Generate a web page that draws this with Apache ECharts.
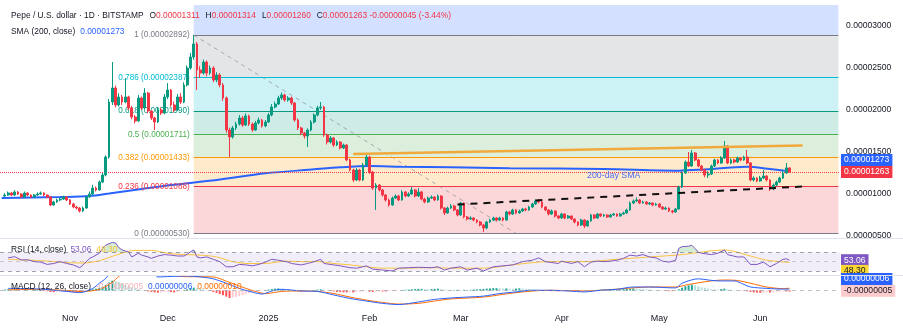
<!DOCTYPE html>
<html><head><meta charset="utf-8">
<script src="https://cdn.jsdelivr.net/npm/echarts@6/dist/echarts.min.js"></script>
<style>html,body{margin:0;padding:0;background:#fff}#c{width:903px;height:332px}</style>
</head><body><div id="c"></div>
<script>
// ---------- DATA (prices in units of 1e-8 USD) ----------
const axisStartDate = '2024-10-11';
const axisDayCount = 258;
const candleFirstDay = 1; // 2024-10-12
const opens = [976,988,1012,988,1024,1000,964,1012,988,964,
988,1000,1012,988,964,869,905,929,940,964,
929,881,845,833,798,833,964,1000,1071,1048,
1143,1226,1440,2095,2262,2060,2155,2095,2155,2024,
1917,1869,2143,2024,2202,1988,1905,1857,2000,1964,
2155,2238,2060,2000,2155,2095,2298,2500,2631,2786,
2476,2440,2571,2440,2500,2357,2417,2298,2143,1762,
1679,1786,1833,1905,1821,1929,1833,1762,1845,1881,
1810,1857,1940,2036,2071,2143,2179,2119,2143,2083,
1881,1786,1726,1690,1762,1857,1940,2024,2036,1702,
1619,1667,1583,1619,1548,1583,1405,1286,1167,1286,
1167,1345,1440,1262,1071,1107,1048,988,929,869,
952,976,929,1024,976,1000,1048,976,1024,940,
905,952,964,929,976,833,774,833,857,810,
750,893,726,702,714,690,667,631,595,667,
690,714,690,714,690,786,762,810,774,798,
821,810,845,881,917,905,845,810,762,798,
738,714,762,714,738,702,667,631,690,619,
679,750,714,762,738,750,726,750,762,738,
762,774,810,893,917,929,893,905,881,893,
869,881,845,821,833,798,786,821,1083,1250,
1381,1333,1488,1405,1333,1286,1226,1238,1333,1405,
1369,1429,1571,1369,1405,1381,1429,1405,1440,1369,
1167,1190,1155,1190,1214,1167,1060,1107,1143,1190,
1250,1311];
const closes = [988,1012,988,1024,1000,964,1012,988,964,988,
1000,1012,988,964,869,905,929,940,964,929,
881,845,833,798,833,964,1000,1071,1048,1143,
1226,1440,2095,2262,2060,2155,2095,2155,2024,1917,
1869,2143,2024,2202,1988,1905,1857,2000,1964,2155,
2238,2060,2000,2155,2095,2298,2500,2631,2786,2476,
2440,2571,2440,2500,2357,2417,2298,2143,1762,1679,
1786,1833,1905,1821,1929,1833,1762,1845,1881,1810,
1857,1940,2036,2071,2143,2179,2119,2143,2083,1881,
1786,1726,1690,1762,1857,1940,2024,2036,1702,1619,
1667,1583,1619,1548,1583,1405,1286,1167,1286,1167,
1345,1440,1262,1071,1107,1048,988,929,869,952,
976,929,1024,976,1000,1048,976,1024,940,905,
952,964,929,976,833,774,833,857,810,750,
893,726,702,714,690,667,631,595,667,690,
714,690,714,690,786,762,810,774,798,821,
810,845,881,917,905,845,810,762,798,738,
714,762,714,738,702,667,631,690,619,679,
750,714,762,738,750,726,750,762,738,762,
774,810,893,917,929,893,905,881,893,869,
881,845,821,833,798,786,821,1083,1250,1381,
1333,1488,1405,1333,1286,1226,1238,1333,1405,1369,
1429,1571,1369,1405,1381,1429,1405,1440,1369,1167,
1190,1155,1190,1214,1167,1060,1107,1143,1190,1250,
1311,1263];
const highs = [1010,1030,1025,1045,1035,1010,1030,1020,995,1000,
1020,1030,1020,995,975,920,945,955,980,975,
940,895,860,845,850,980,1030,1110,1090,1160,
1250,1460,2130,2571,2290,2200,2180,2380,2170,2050,
1940,2180,2160,2260,2215,2000,1920,2030,2030,2190,
2321,2250,2100,2190,2200,2330,2530,2680,2892,2810,
2520,2600,2590,2530,2520,2450,2440,2320,2160,1790,
1810,1860,1940,1930,1960,1945,1850,1870,1910,1895,
1880,1965,2070,2100,2170,2210,2195,2165,2160,2095,
1900,1800,1740,1780,1880,1960,2050,2095,2050,1720,
1690,1680,1640,1630,1600,1595,1420,1300,1310,1300,
1370,1488,1455,1275,1130,1120,1060,1000,945,970,
995,990,1045,1035,1020,1083,1060,1070,1035,955,
970,985,975,995,985,845,850,880,870,820,
905,900,740,735,725,700,680,645,680,705,
730,725,730,725,800,800,825,820,815,835,
835,860,895,935,940,915,855,820,815,805,
750,775,770,750,745,710,675,705,700,690,
765,760,775,770,765,760,765,775,770,775,
790,825,910,935,960,940,920,915,905,900,
895,890,855,850,840,810,835,1100,1270,1400,
1500,1524,1500,1420,1345,1300,1270,1350,1420,1415,
1450,1631,1580,1425,1420,1445,1440,1455,1524,1380,
1210,1200,1215,1286,1225,1175,1125,1160,1205,1280,
1369,1314];
const lows = [965,980,975,980,990,950,955,975,950,955,
980,990,975,950,855,860,895,915,930,915,
870,830,815,780,785,825,955,990,1030,1040,
1130,1210,1420,2060,2030,2040,2060,2080,2000,1890,
1840,1860,2000,2010,1960,1880,1762,1845,1940,1950,
2130,2040,1970,1990,2070,2080,2280,2480,2600,2238,
2380,2420,2400,2420,2330,2330,2270,2110,1730,1440,
1660,1760,1815,1800,1810,1810,1740,1750,1830,1790,
1795,1845,1925,2020,2060,2120,2100,2100,2060,1860,
1760,1700,1660,1560,1745,1840,1925,2000,1680,1590,
1600,1560,1570,1530,1535,1390,1270,1143,1155,1150,
1155,1330,1240,1050,810,1030,970,910,850,860,
940,915,920,960,965,990,960,965,925,890,
895,940,915,920,815,750,765,820,795,735,
740,710,685,690,675,650,615,548,580,655,
680,675,680,675,680,745,750,760,765,785,
795,800,835,870,890,830,795,745,750,720,
700,705,700,705,690,650,615,620,595,610,
670,700,705,725,728,715,718,740,728,730,
755,765,800,880,905,880,885,870,870,855,
860,835,810,812,785,770,778,815,1070,1240,
1320,1325,1390,1320,1270,1200,1190,1225,1320,1355,
1360,1420,1355,1355,1365,1370,1390,1395,1355,1150,
1150,1140,1145,1180,1150,1036,1045,1095,1130,1180,
1240,1260];
const dayChange = -45;          // 1e-8 units, as printed in the header
const dayChangePct = '-3.44%';
// SMA(200) read at sample days (day offset from axisStartDate)
const smaDay = [0,9,18,27,33,43,52,66,81,96,104,113,123,138,156,185,208,215,229,236,240,242];
const smaVal = [952,958,964,976,1006,1060,1107,1167,1246,1294,1318,1333,1325,1318,1306,1298,1278,1290,1325,1298,1280,1273];
// Fibonacci retracement
const fibRatio = [1,0.786,0.618,0.5,0.382,0.236,0];
const fibPrice = [2892,2387,1990,1711,1433,1088,530];
const fibColor = ['#787b86','#00bcd4','#089981','#4caf50','#ff9800','#f23645','#787b86'];
const fibTopColor = '#2962ff';
const fibStartDay = 59;
const fibTrendDay = [59,158];
const fibTrendVal = [2892,530];
const resistanceDay = [108,246];
const resistanceVal = [1476,1577];
const supportDay = [140,246];
const supportVal = [875,1089];
const smaLabelDay = 188, smaLabelVal = 1214;
// RSI(14)
const rsiDay = [2,4,6,8,10,12,14,16,18,20,22,24,25,27,28,30,31,32,34,35,36,37,39,40,42,43,45,46,48,50,52,54,56,57,58,59,60,61,63,65,67,69,71,73,75,77,79,81,83,85,88,89,92,94,96,98,99,102,104,107,109,111,112,114,117,120,122,125,128,132,134,136,138,141,143,146,148,151,154,157,160,163,165,167,171,172,175,177,179,181,183,185,187,189,191,193,195,197,199,201,203,205,207,208,209,211,212,213,214,215,218,220,222,223,226,228,230,232,234,236,238,240,241,242];
const rsiVal = [58,60.6,53.5,54,50,49,44,46,50,46,43,37,43,57,60,68,78.5,85.6,91,90,80,75,70.5,60,68,64,60,57,62,65,64,62,62,66,71,75,60,58,60,55,50,39,39,44,43,41,44,49,55,53,49,46,43,46,50,55,46,43,41,37,36,39,41,34,32,30,36,37,38,37,39,32,36,39,32,36,30,39,41,43,50,53,58,50,46,51,46,50,39,49,51,50,51,53,57,64,62,65,60,58,51,49,53,78.5,82,83,85,78,70,68,65,68,75,65,60,60,44,44,49,39,46,55,56,53.06];
const rsiMaDay = [2,12,20,25,30,36,41,46,51,56,61,66,71,76,81,87,92,97,102,107,112,117,122,133,138,148,158,168,179,189,199,209,222,230,235,242];
const rsiMaVal = [55,52,48,47,52,66,74,74,68,65,64,60,50,46,46,51,50,50,46,43,39,36,36,37,36,36,44,50,50,55,60,65,75,62,53,48.3];
// MACD(12,26) in 1e-8 units
const macdDay = [2,12,20,24,28,30,32,34,40,46,48,52,57,61,65,69,73,77,80,83,86,92,97,102,107,112,117,122,128,133,138,143,148,153,158,163,168,174,179,184,189,194,199,207,209,214,217,220,225,228,230,235,240,242];
const macdVal = [9,6,-4,-9,9,31,52,90,150,100,58,60,62,58,50,31,9,-7,-15,-2,5,-2,-4,-19,-34,-45,-55,-60,-49,-38,-32,-28,-24,-13,-6,1,1,-2,-6,1,5,15,15,11,31,50,45,41,41,26,15,9,6,6];
const signalDay = [2,12,20,25,30,34,36,42,55,65,69,73,77,81,86,92,97,102,107,112,117,122,128,133,138,148,158,168,179,189,199,207,211,218,222,226,230,235,240,242];
const signalVal = [3,5,0,-4,5,35,60,120,60,58,40,19,0,-13,-4,-2,-4,-13,-28,-41,-51,-58,-55,-45,-36,-28,-9,1,-2,6,15,15,26,41,45,43,31,15,8,10];
const histVal = [4,5,3,4,2,1,3,2,1,2,3,2,
-2,-3,-6,-7,-6,-5,-4,-5,-6,-7,-8,-8,-6,-3,
2,5,8,12,16,24,34,42,40,36,
30,24,18,13,9,6,3,
-2,-4,-6,-8,-9,-8,-6,-5,-7,-8,-6,-4,
2,5,9,12,10,7,
4,2,-2,-6,
-10,-15,-20,-26,-32,-30,-28,-24,
-20,-16,-12,-9,-6,-4,-2,
2,4,6,8,9,8,6,5,3,
-2,-4,-5,-4,-3,-1,
2,4,5,3,1,-2,
-4,-6,-7,-8,-8,-7,-8,-6,-5,-4,-3,-5,
-6,-5,-4,-4,-4,-3,-2,-2,-1,
2,3,4,5,6,7,7,6,5,6,7,8,6,4,3,2,
2,3,2,3,2,3,
4,5,6,7,8,9,10,10,9,8,9,8,7,8,9,
8,7,6,5,4,3,2,
-1,-2,-3,-3,-4,-3,-2,-3,-2,-3,-4,-3,-2,-1,1,
2,3,4,4,3,4,5,4,5,
6,7,8,9,8,7,6,5,4,
3,2,1,-1,-2,-3,-3,-2,
5,12,18,22,25,22,18,
14,11,8,6,5,4,6,8,
5,3,2,1,-1,-2,-3,
-6,-8,-9,-10,-9,-8,-9,-8,-6,
-5,-4,-4,-5];
const monthNames = ['Jan','Feb','Mar','Apr','May','Jun','Jul','Aug','Sep','Oct','Nov','Dec'];

// ---------- BUILD ----------
const FONT = "'Liberation Sans',Arial,sans-serif";
const TXT = '#131722';
const s0 = axisStartDate.split('-').map(Number);
const cats = Array.from({length: axisDayCount}, (_, k) =>
  new Date(Date.UTC(s0[0], s0[1]-1, s0[2]+k)).toISOString().slice(0,10));
const N = cats.length;
const fmt = v => (v<0?'-':'') + (Math.abs(v)/1e8).toFixed(8);
function spread(days, vals){ const a = new Array(N).fill(null); days.forEach((d,i)=>{a[d]=vals[i];}); return a; }
const candleData = cats.map((c,k)=>{ const j=k-candleFirstDay; return (j>=0 && j<closes.length) ? [opens[j],closes[j],lows[j],highs[j]] : '-'; });
const histData = cats.map((c,k)=>{ const j=k-candleFirstDay; if(j<0||j>=histVal.length) return '-';
  const v=histVal[j], p=j>0?histVal[j-1]:0;
  const col = v>=0 ? (v>=p?'#26a69a':'#b2dfdb') : (v<=p?'#ff5252':'#ffcdd2');
  return {value:v, itemStyle:{color:col}}; });
const L = closes.length-1;
const lastClose = closes[L];
const lastSma = smaVal[smaVal.length-1];
const lastRsi = rsiVal[rsiVal.length-1];
const lastRsiMa = rsiMaVal[rsiMaVal.length-1];
const lastMacd = macdVal[macdVal.length-1];
const lastHist = histVal[histVal.length-1];
const lastSignal = signalVal[signalVal.length-1];
const endCat = cats[N-1];

const bandBounds = [3250].concat(fibPrice);
const fibAreas = [];
for (let i=0;i<bandBounds.length-1;i++){
  const col = i===0 ? fibTopColor : fibColor[i-1];
  fibAreas.push([{xAxis: cats[fibStartDay], yAxis: bandBounds[i], itemStyle:{color: col, opacity: 0.2}},
                 {xAxis: endCat, yAxis: bandBounds[i+1]}]);
}
const fibLines = fibPrice.map((p,i)=>[
  {xAxis: cats[fibStartDay], yAxis: p, lineStyle:{color: fibColor[i], width:1, type:'solid'},
   label:{show:true, position:'start', distance:4, formatter: fibRatio[i]+' ('+fmt(p)+')', color: fibColor[i], fontSize:8.2, fontFamily:FONT}},
  {xAxis: endCat, yAxis: p}]);

const CLEAR = 'rgba(0,0,0,0)';
function tag(val, txt, bg, fg, dy){
  return {yAxis: val, lineStyle:{color:CLEAR, width:0}, label:{show:true, position:'end', distance:1, formatter: txt,
    backgroundColor:bg, color:fg, padding:[2,3,1,3], fontSize:8.6, fontFamily:FONT, offset:[0,dy]}};
}
const rt = (size, color, pl) => ({fontSize:size, color:color, fontFamily:FONT, fontWeight:'normal', padding:[0,0,0,pl||0]});

const chart = echarts.init(document.getElementById('c'), null, {renderer:'canvas'});
const baseX = gi => ({type:'category', gridIndex:gi, data:cats, boundaryGap:true,
  axisLine:{show:false}, axisTick:{show:false}, splitLine:{show:false},
  axisLabel: gi===2 ? {show:true, interval:(idx,val)=>val.slice(8)==='01',
     formatter: val=>{const m=+val.slice(5,7); return m===1 ? val.slice(0,4) : monthNames[m-1];},
     fontSize:9, color:TXT, margin:9, fontFamily:FONT} : {show:false}});

const lastOpen = opens[L], lastHigh = highs[L], lastLow = lows[L];
const FS = 8.4;
const option = {
  animation:false,
  textStyle:{fontFamily:FONT},
  title:[
    {left:11, top:12, padding:0, text:'{n|Pepe / U.S. dollar · 1D · BITSTAMP}{k|O}{v|'+fmt(lastOpen)+'}{k|H}{v|'+fmt(lastHigh)+'}{k|L}{v|'+fmt(lastLow)+'}{k|C}{v|'+fmt(lastClose)+' '+fmt(dayChange)+' ('+dayChangePct+')}',
     textStyle:{fontWeight:'normal', rich:{n:rt(FS,TXT), k:rt(FS,TXT,6), v:rt(FS,'#f23645')}}},
    {left:11, top:28, padding:0, text:'{n|SMA (200, close)}{b|'+fmt(lastSma)+'}',
     textStyle:{fontWeight:'normal', rich:{n:rt(FS,TXT), b:rt(FS,'#2962ff',5)}}},
    {left:11, top:246, padding:0, text:'{n|RSI (14, close)}{p|'+lastRsi.toFixed(2)+'}{y|'+lastRsiMa.toFixed(2)+'}',
     textStyle:{fontWeight:'normal', rich:{n:rt(FS,TXT), p:rt(FS,'#7e57c2',4), y:rt(FS,'#f9c23c',5)}}},
    {left:11, top:283, padding:0, text:'{n|MACD (12, 26, close)}{h|'+fmt(lastHist)+'}{b|'+fmt(lastMacd)+'}{o|'+fmt(lastSignal)+'}',
     textStyle:{fontWeight:'normal', rich:{n:rt(FS,TXT), h:rt(FS,'#f7b4ba',5), b:rt(FS,'#2962ff',5), o:rt(FS,'#ff6d00',5)}}}
  ],
  grid:[
    {left:0, right:63, top:5, height:231},
    {left:0, right:63, top:239, height:36},
    {left:0, right:63, top:276, height:29}
  ],
  xAxis:[baseX(0), baseX(1), baseX(2)],
  yAxis:[
    {type:'value', gridIndex:0, position:'right', min:500, max:3250, interval:500,
     axisLine:{show:false}, axisTick:{show:false}, splitLine:{show:false},
     axisLabel:{formatter:v=>fmt(v), fontSize:8.6, color:TXT, margin:6, showMaxLabel:false, fontFamily:FONT}},
    {type:'value', gridIndex:1, min:21.4, max:98.4, show:false},
    {type:'value', gridIndex:2, min:-62, max:62, show:false}
  ],
  graphic:[
    {type:'line', shape:{x1:0,y1:238.5,x2:903,y2:238.5}, style:{stroke:'#e0e3eb', lineWidth:1}, z:100},
    {type:'line', shape:{x1:0,y1:275.5,x2:903,y2:275.5}, style:{stroke:'#e0e3eb', lineWidth:1}, z:100}
  ],
  series:[
    {name:'fib', type:'line', xAxisIndex:0, yAxisIndex:0, data:cats.map(()=>null), z:1, silent:true,
     markArea:{silent:true, data:fibAreas},
     markLine:{silent:true, symbol:['none','none'], data:fibLines}},
    {name:'fibTrend', type:'line', xAxisIndex:0, yAxisIndex:0, data:spread(fibTrendDay, fibTrendVal), connectNulls:true,
     showSymbol:false, lineStyle:{color:'#9598a1', width:1, type:[4,4], opacity:0.8}, z:2, silent:true},
    {name:'price', type:'candlestick', xAxisIndex:0, yAxisIndex:0, data:candleData, barWidth:'70%', z:5,
     itemStyle:{color:'#089981', color0:'#f23645', borderColor:'#089981', borderColor0:'#f23645', borderWidth:1},
     markLine:{silent:true, symbol:['none','none'], data:[
       {yAxis:lastClose, lineStyle:{color:'#f23645', type:'dotted', width:1},
        label:{show:true, position:'end', distance:1, formatter:fmt(lastClose), backgroundColor:'#f23645', color:'#fff', padding:[2,3,1,3], fontSize:8.6, fontFamily:FONT}}]}},
    {name:'sma', type:'line', xAxisIndex:0, yAxisIndex:0, data:spread(smaDay, smaVal), connectNulls:true, smooth:0.3,
     showSymbol:false, lineStyle:{color:'#2962ff', width:2}, z:4, silent:true,
     markLine:{silent:true, symbol:['none','none'], data:[tag(lastSma, fmt(lastSma), '#2962ff', '#fff', -11)]},
     markPoint:{silent:true, symbol:'circle', symbolSize:0.1, itemStyle:{color:CLEAR},
       data:[{coord:[cats[smaLabelDay], smaLabelVal], label:{show:true, position:'inside', formatter:'200-day SMA', color:'#4a6cf7', fontSize:8.8, fontFamily:FONT}}]}},
    {name:'resistance', type:'line', xAxisIndex:0, yAxisIndex:0, data:spread(resistanceDay, resistanceVal), connectNulls:true,
     showSymbol:false, lineStyle:{color:'#f2a93b', width:2.5}, z:6, silent:true},
    {name:'support', type:'line', xAxisIndex:0, yAxisIndex:0, data:spread(supportDay, supportVal), connectNulls:true,
     showSymbol:false, lineStyle:{color:'#111', width:2, type:[7,6]}, z:6, silent:true},
    // RSI pane
    {name:'rsiOB', type:'line', xAxisIndex:1, yAxisIndex:1, data:spread(rsiDay, rsiVal.map(v=>Math.max(v,70))), connectNulls:true,
     showSymbol:false, lineStyle:{opacity:0}, areaStyle:{origin:70, color:'rgba(76,175,80,0.35)'}, z:2, silent:true},
    {name:'rsi', type:'line', xAxisIndex:1, yAxisIndex:1, data:spread(rsiDay, rsiVal), connectNulls:true,
     showSymbol:false, lineStyle:{color:'#7e57c2', width:1}, z:4, silent:true,
     markArea:{silent:true, itemStyle:{color:'rgba(126,87,194,0.1)'}, data:[[{yAxis:70},{yAxis:30}]]},
     markLine:{silent:true, symbol:['none','none'], data:[
       {yAxis:70, lineStyle:{color:'#787b86', type:[4,4], width:1, opacity:0.7}, label:{show:false}},
       {yAxis:50, lineStyle:{color:'#787b86', type:[4,4], width:1, opacity:0.35}, label:{show:false}},
       {yAxis:30, lineStyle:{color:'#787b86', type:[4,4], width:1, opacity:0.7}, label:{show:false}},
       tag(lastRsi, lastRsi.toFixed(2), '#7e57c2', '#fff', 0)]}},
    {name:'rsiMa', type:'line', xAxisIndex:1, yAxisIndex:1, data:spread(rsiMaDay, rsiMaVal), connectNulls:true, smooth:0.3,
     showSymbol:false, lineStyle:{color:'#f9c23c', width:1}, z:3, silent:true,
     markLine:{silent:true, symbol:['none','none'], data:[tag(lastRsiMa, lastRsiMa.toFixed(2), '#fdd835', TXT, 8.5)]}},
    // MACD pane
    {name:'hist', type:'bar', xAxisIndex:2, yAxisIndex:2, data:histData, barWidth:2, z:2, silent:true,
     markLine:{silent:true, symbol:['none','none'], data:[
       {yAxis:0, lineStyle:{color:'#9598a1', type:[4,4], width:1, opacity:0.6}, label:{show:false}},
       tag(lastHist, fmt(lastHist), '#fccbcd', TXT, -1)]}},
    {name:'macd', type:'line', xAxisIndex:2, yAxisIndex:2, data:spread(macdDay, macdVal), connectNulls:true, smooth:0.3,
     showSymbol:false, lineStyle:{color:'#2962ff', width:1}, z:4, silent:true,
     markLine:{silent:true, symbol:['none','none'], data:[tag(lastMacd, fmt(lastMacd), '#2962ff', '#fff', -10)]}},
    {name:'signal', type:'line', xAxisIndex:2, yAxisIndex:2, data:spread(signalDay, signalVal), connectNulls:true, smooth:0.3,
     showSymbol:false, lineStyle:{color:'#ff6d00', width:1}, z:3, silent:true}
  ]
};
chart.setOption(option);
</script>
</body></html>
